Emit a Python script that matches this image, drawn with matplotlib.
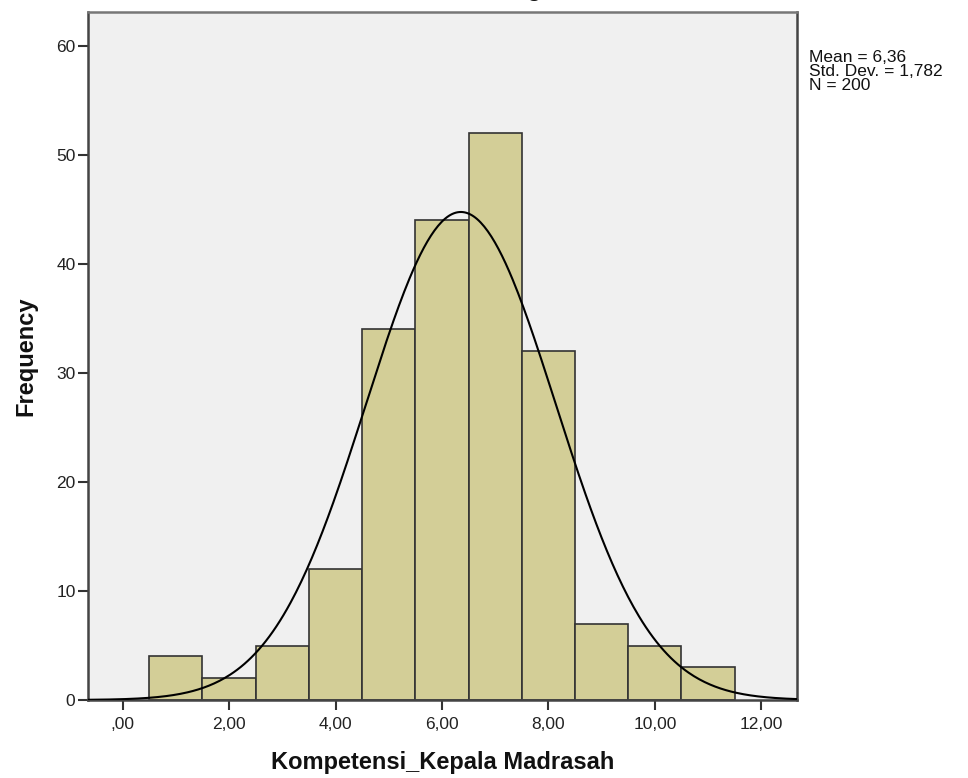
import matplotlib.pyplot as plt
import numpy as np

# Frequencies of Kompetensi_Kepala Madrasah, bins of width 1 centred on integers
bin_centers = [1, 2, 3, 4, 5, 6, 7, 8, 9, 10, 11]
counts = [4, 2, 5, 12, 34, 44, 52, 32, 7, 5, 3]
mean_val = 6.355
std_val = 1.782
n_total = 200

x_ticks = [0, 2, 4, 6, 8, 10, 12]
x_tick_labels = [',00', '2,00', '4,00', '6,00', '8,00', '10,00', '12,00']
y_ticks = [0, 10, 20, 30, 40, 50, 60]
stats_lines = ['Mean = 6,36', 'Std. Dev. = 1,782', 'N = 200']

plt.rcParams['font.family'] = ['Liberation Sans', 'DejaVu Sans']

fig = plt.figure(figsize=(9.68, 7.78), dpi=100)
ax = fig.add_axes([88/968, 78/778, 709/968, 688.3/778])
ax.set_facecolor('#f0f0f0')

ax.bar(bin_centers, counts, width=1.0, color='#d3ce97',
       edgecolor='#333333', linewidth=1.2, zorder=2)

# normal curve scaled to counts
xs = np.linspace(-0.65, 12.67, 400)
pdf = np.exp(-0.5*((xs - mean_val)/std_val)**2) / (std_val*np.sqrt(2*np.pi))
ax.plot(xs, pdf*n_total*1.0, color='black', lw=1.5, zorder=3)

ax.set_xlim(-0.65, 12.67)
ax.set_ylim(0, 63.15)
ax.set_xticks(x_ticks)
ax.set_xticklabels(x_tick_labels)
ax.set_yticks(y_ticks)
ax.tick_params(axis='both', length=7, width=1.5, color='#333333',
               labelsize=12.5, labelcolor='#222222')
ax.tick_params(axis='x', pad=5)
ax.tick_params(axis='y', pad=2)

for side in ['left', 'right', 'top', 'bottom']:
    ax.spines[side].set_color('#444444')
    ax.spines[side].set_linewidth(1.8)
ax.spines['top'].set_color('#777777')

ax.set_xlabel('Kompetensi_Kepala Madrasah', fontsize=17, fontweight='bold',
              labelpad=14, color='#111111')
ax.set_ylabel('Frequency', fontsize=17, fontweight='bold',
              labelpad=13.5, color='#111111')

# stats box on the right, one line at a time
for i, line in enumerate(stats_lines):
    fig.text(809/968, 1 - (62.5 + 13.5*i)/778, line,
             ha='left', va='baseline', fontsize=12.5, color='#111111')

# title is cut off at the top of the image, only the descender shows
fig.text(527/968, 1 + 4/778, 'Histogram', ha='center', va='baseline',
         fontsize=17, fontweight='bold', color='#111111')

fig.savefig('out.png', dpi=100)
